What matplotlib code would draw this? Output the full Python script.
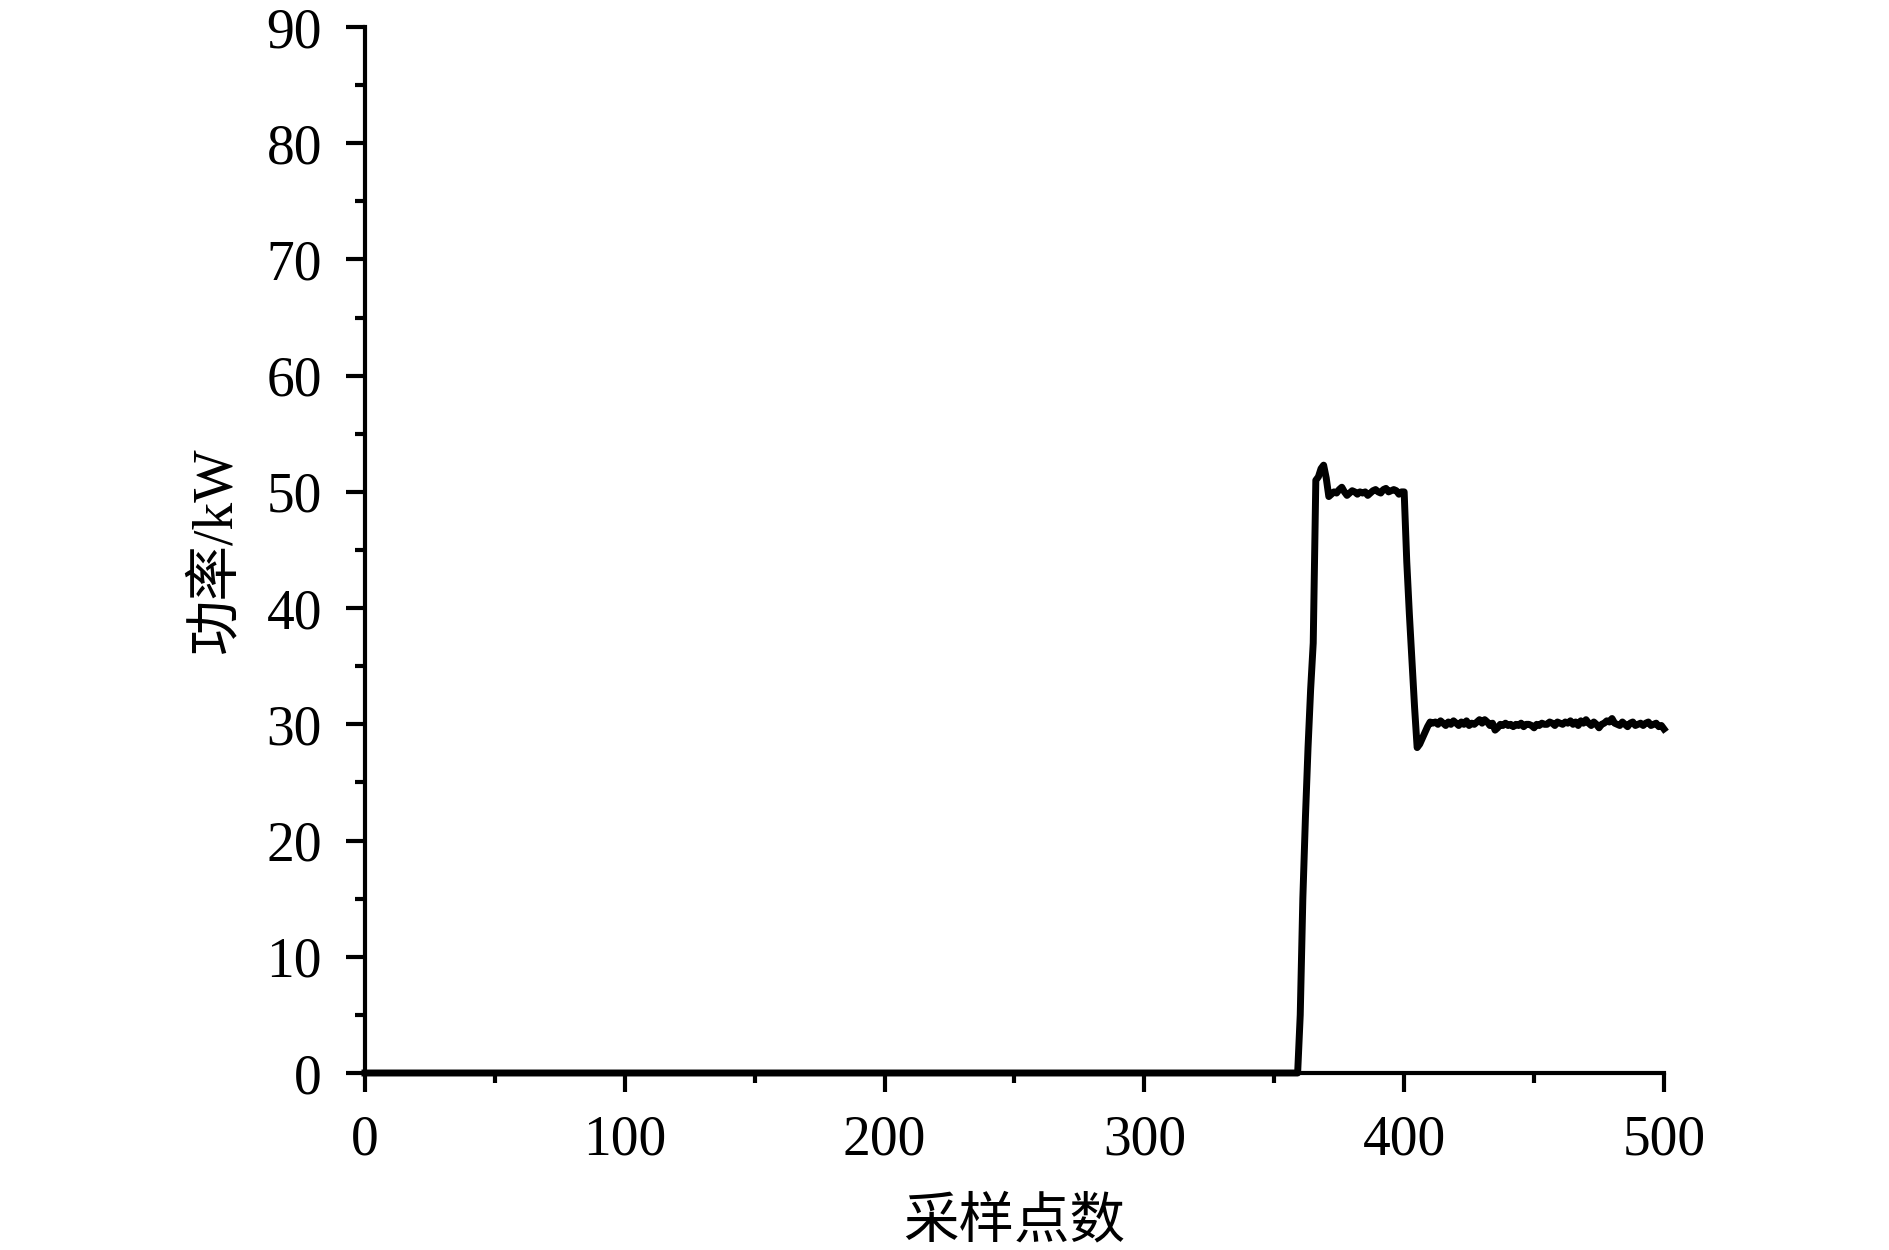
import numpy as np
import matplotlib
matplotlib.use("Agg")
import matplotlib.pyplot as plt

# power readings (kW) per sampling point
idle_x = [0, 358]            # flat at zero over this span
idle_power = [0.0, 0.0]

active_start = 359           # first sample of the active part
rise = [0.0, 5.0, 15.0, 22.0, 28.0, 33.0, 37.0, 51.0, 51.3, 52.0, 52.3, 51.2]  # 359-370
high = [49.6, 49.8, 50.0, 49.9, 50.2, 50.4, 50.0, 49.7, 49.9, 50.1,    # 371-380
        50.0, 49.8, 50.0, 49.9, 50.0, 49.7, 49.9, 50.1, 50.2, 50.0,    # 381-390
        49.9, 50.2, 50.3, 50.0, 50.1, 50.2, 50.1, 49.8, 50.0, 50.0]    # 391-400
drop = [44.0, 39.5, 35.5, 31.5, 28.0, 28.3, 28.8, 29.3, 29.8, 30.2]   # 401-410
low = [30.1, 30.2, 30.0, 30.3, 30.1, 29.9, 30.2, 30.0, 30.3, 30.1,     # 411-420
       29.9, 30.2, 30.0, 30.3, 29.9, 30.1, 30.0, 30.2, 30.4, 30.1,     # 421-430
       30.4, 30.2, 29.9, 30.1, 29.5, 29.7, 30.0, 29.9, 30.1, 29.9,     # 431-440
       30.0, 29.8, 30.0, 29.9, 30.1, 29.8, 30.0, 30.0, 29.9, 29.7,     # 441-450
       30.0, 29.9, 30.1, 30.0, 30.0, 30.2, 30.1, 29.9, 30.2, 30.1,     # 451-460
       30.0, 30.2, 30.1, 30.3, 30.0, 30.2, 29.9, 30.3, 30.1, 30.4,     # 461-470
       30.1, 29.9, 30.2, 30.0, 29.7, 30.0, 30.1, 30.3, 30.2, 30.5,     # 471-480
       30.1, 30.0, 29.9, 30.2, 30.0, 29.8, 30.1, 30.2, 29.9, 30.0,     # 481-490
       30.1, 29.9, 30.1, 30.2, 29.9, 30.0, 30.1, 29.8, 29.9, 29.6]     # 491-500

active = rise + high + drop + low
active_x = list(range(active_start, active_start + len(active)))

x = idle_x + active_x
y = idle_power + active

plt.rcParams['font.family'] = ['Liberation Serif', 'Noto Sans CJK SC']
plt.rcParams['font.size'] = 40

fig = plt.figure(figsize=(18.9, 12.5), dpi=100)
ax = fig.add_axes([0.1931, 0.1416, 0.6873, 0.8368])

ax.plot(x, y, color='black', lw=5, solid_joinstyle='round', clip_on=False, zorder=3)

ax.set_xlim(0, 500)
ax.set_ylim(0, 90)
ax.set_xticks(np.arange(0, 501, 100))
ax.set_xticks(np.arange(50, 500, 100), minor=True)
ax.set_yticks(np.arange(0, 91, 10))
ax.set_yticks(np.arange(5, 90, 10), minor=True)

for side in ['top', 'right']:
    ax.spines[side].set_visible(False)
for side in ['left', 'bottom']:
    ax.spines[side].set_linewidth(3)

ax.tick_params(which='major', direction='out', length=14, width=3, labelsize=40)
ax.tick_params(which='minor', direction='out', length=7, width=3)
ax.tick_params(axis='x', which='major', pad=16)
ax.tick_params(axis='y', which='major', pad=17)

ax.set_xlabel('采样点数', fontsize=40)
ax.set_ylabel('功率/kW', fontsize=40)
ax.xaxis.set_label_coords(0.5, -0.119)
ax.yaxis.set_label_coords(-0.0945, 0.5)

fig.savefig('out.png', dpi=100)
